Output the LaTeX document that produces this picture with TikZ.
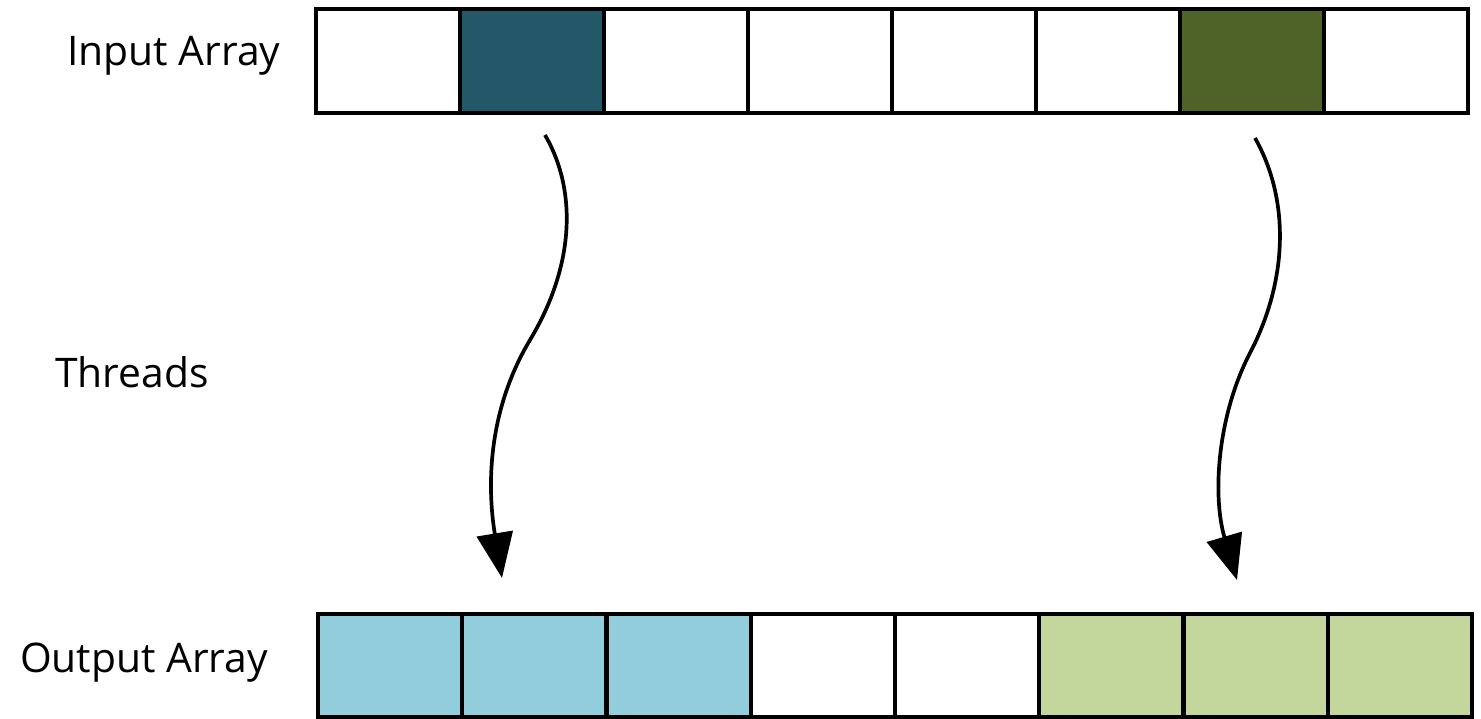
\documentclass[tikz,border=0pt]{standalone}
\usepackage{fontspec}
\setmainfont{Open Sans}
\usetikzlibrary{arrows.meta}
\definecolor{darkteal}{HTML}{235868}
\definecolor{darkolive}{HTML}{4F6228}
\definecolor{lightblue}{HTML}{92CDDC}
\definecolor{lightolive}{HTML}{C3D69B}
\begin{document}
\begin{tikzpicture}[x=0.01cm,y=-0.01cm,
  incell/.style={draw=black, line width=1.2pt, minimum width=1.44cm, minimum height=1.04cm, inner sep=0pt, outer sep=0pt, fill=white},
  outcell/.style={draw=black, line width=1.2pt, minimum width=1.4425cm, minimum height=1.03cm, inner sep=0pt, outer sep=0pt, fill=white},
  label/.style={font=\fontsize{11.6}{13}\selectfont, inner sep=0pt, anchor=center},
  flow/.style={line width=1.05pt, -{Triangle[length=4.5mm,width=3.6mm]}}]
\useasboundingbox (0,0) rectangle (1481,719);
% input array
\foreach \i in {1,...,8}{
  \node[incell] (in\i) at ({316+144*(\i-0.5)},61) {};
}
\node[incell, fill=darkteal] at (in2) {};
\node[incell, fill=darkolive] at (in7) {};
% output array
\foreach \i in {1,...,8}{
  \node[outcell] (out\i) at ({318+144.25*(\i-0.5)},665.5) {};
}
\foreach \i in {1,2,3}{\node[outcell, fill=lightblue] at (out\i) {};}
\foreach \i in {6,7,8}{\node[outcell, fill=lightolive] at (out\i) {};}
% labels
\node[label] (lin) at (174,56) {Input Array};
\node[label] (lth) at (132,372) {Threads};
\node[label] (lout) at (144,663) {Output Array};
% arrows
\coordinate (a1s) at (545,135);
\coordinate (a1m) at (530,340);
\coordinate (a1e) at (502,578);
\coordinate (a2s) at (1255,138);
\coordinate (a2m) at (1250,353);
\coordinate (a2e) at (1237,580);
\draw[flow] (a1s) .. controls (577,190) and (575,265) .. (a1m) .. controls (490,406.7) and (486,480) .. (a1e);
\draw[flow] (a2s) .. controls (1290,200) and (1288,280) .. (a2m) .. controls (1217.7,415) and (1212,495) .. (a2e);
\end{tikzpicture}
\end{document}
